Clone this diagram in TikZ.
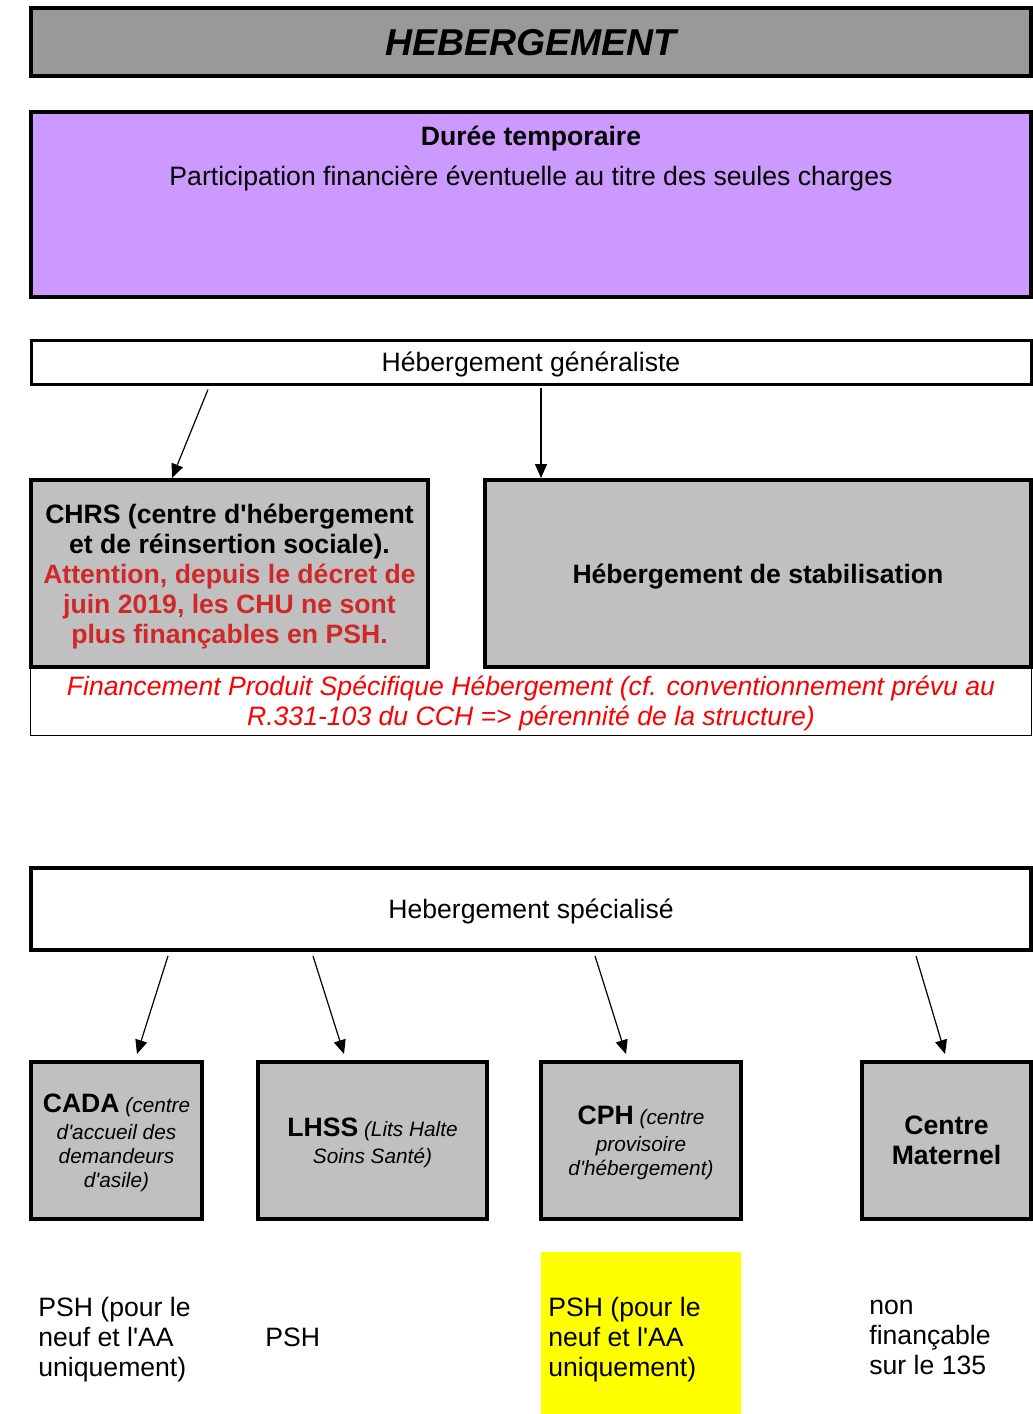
\documentclass[tikz,border=0pt]{standalone}
\usepackage{fontspec}
\setmainfont{Liberation Sans}
\usetikzlibrary{arrows.meta,positioning}

\definecolor{grisfonce}{RGB}{153,153,153}
\definecolor{grisclair}{RGB}{192,192,192}
\definecolor{mauve}{RGB}{204,153,255}
\definecolor{rougechrs}{RGB}{208,40,40}
\definecolor{rougepsh}{RGB}{255,0,0}
\definecolor{jaune}{RGB}{255,255,0}
\newcommand{\petitfont}{\fontsize{10.4}{12}\selectfont\itshape}
\newcommand{\sigle}[1]{{\fontsize{13.3}{15}\selectfont\bfseries\upshape #1}}

\begin{document}
\begin{tikzpicture}[x=0.5pt,y=-0.5pt]
            \tikzset{every node/.style={font=\fontsize{13.3}{15}\selectfont, inner sep=0pt, text depth=0pt},
                     boite/.style={draw=black, line width=2pt, align=center},
                     etab/.style={boite, fill=grisclair, minimum height=78.5pt},
                     fleche/.style={-{Triangle[length=7pt,width=6pt]}, line width=0.6pt}}
            \useasboundingbox (0,0) rectangle (1033,1414);

            % en-tete
            \node[boite, fill=grisfonce, minimum width=500pt, minimum height=34pt,
                  font=\fontsize{18.7}{22}\selectfont\bfseries\itshape] (titre) at (531,42) {HEBERGEMENT};

            \node[boite, fill=mauve, minimum width=500pt, minimum height=92.5pt] (duree) at (531,204.5) {};
            \node[font=\fontsize{13.3}{15}\selectfont\bfseries] (dureetitre) at (531,136) {Durée temporaire};
            \node (participation) at (531,176) {Participation financière éventuelle au titre des seules charges};

            % hebergement generaliste
            \node[boite, line width=1.5pt, minimum width=500pt, minimum height=22pt] (generaliste) at (531,362) {Hébergement généraliste};

            \node[minimum width=500pt, minimum height=34pt, align=center, text=rougepsh,
                  font=\fontsize{13.3}{15}\selectfont\itshape] (financement) at (531,701)
                {Financement Produit Spécifique Hébergement (cf. conventionnement prévu au\\
                 R.331-103 du CCH => pérennité de la structure)};
            \draw[line width=0.6pt] (financement.north west) -- (financement.south west)
                -- (financement.south east) -- (financement.north east);

            \node[etab, minimum width=198.5pt, minimum height=93.5pt, font=\fontsize{13.3}{15}\selectfont\bfseries] (chrs) at (229.5,573.5)
                {CHRS (centre d\textquotesingle hébergement\\
                 et de réinsertion sociale).\\
                 \textcolor{rougechrs}{Attention, depuis le décret de}\\
                 \textcolor{rougechrs}{juin 2019, les CHU ne sont}\\
                 \textcolor{rougechrs}{plus finançables en PSH.}};
            \node[etab, minimum width=273pt, minimum height=93.5pt, font=\fontsize{13.3}{15}\selectfont\bfseries] (stabilisation) at (758,573.5)
                {Hébergement de stabilisation};

            \draw[fleche] ([xshift=-161.5pt,yshift=-2pt]generaliste.south) -- ([xshift=-28.75pt]chrs.north);
            \draw[fleche] ([xshift=5pt,yshift=-1pt]generaliste.south) -- ([xshift=-108.5pt]stabilisation.north);

            % hebergement specialise
            \node[boite, minimum width=500pt, minimum height=41pt] (specialise) at (531,909) {Hebergement spécialisé};

            \node[etab, minimum width=85.5pt, font=\petitfont] (cada) at (116.5,1140.5)
                {\sigle{CADA} (centre\\[1.5pt]
                 d\textquotesingle accueil des\\
                 demandeurs\\
                 d\textquotesingle asile)};
            \node[etab, minimum width=114.5pt, font=\petitfont] (lhss) at (372.5,1140.5)
                {\sigle{LHSS} (Lits Halte\\[1.5pt]
                 Soins Santé)};
            \node[etab, minimum width=100pt, font=\petitfont] (cph) at (641,1140.5)
                {\sigle{CPH} (centre\\[1.5pt]
                 provisoire\\
                 d\textquotesingle hébergement)};
            \node[etab, minimum width=84.5pt, font=\fontsize{13.3}{15}\selectfont\bfseries] (maternel) at (946.5,1140.5)
                {Centre\\ Maternel};

            \draw[fleche] ([xshift=-181.5pt,yshift=-2pt]specialise.south) -- ([xshift=10.25pt,yshift=3pt]cada.north);
            \draw[fleche] ([xshift=-109pt,yshift=-2pt]specialise.south) -- ([xshift=-14.25pt,yshift=3pt]lhss.north);
            \draw[fleche] ([xshift=32pt,yshift=-2pt]specialise.south) -- ([xshift=-7.5pt,yshift=3pt]cph.north);
            \draw[fleche] ([xshift=192.5pt,yshift=-2pt]specialise.south) -- ([xshift=-0.75pt,yshift=3pt]maternel.north);

            % financement
            \node[fill=jaune, minimum width=100pt, minimum height=81pt] (surligne) at (641,1333) {};
            \node[anchor=west, align=left] (pshcada) at (38,1337) {PSH (pour le\\ neuf et l\textquotesingle AA\\ uniquement)};
            \node[anchor=west, align=left] (pshlhss) at (265,1337) {PSH};
            \node[anchor=west, align=left] (pshcph) at (548,1337) {PSH (pour le\\ neuf et l\textquotesingle AA\\ uniquement)};
            \node[anchor=west, align=left] (pshmat) at (869,1337) {non\\ finançable\\ sur le 135};
        \end{tikzpicture}
\end{document}
